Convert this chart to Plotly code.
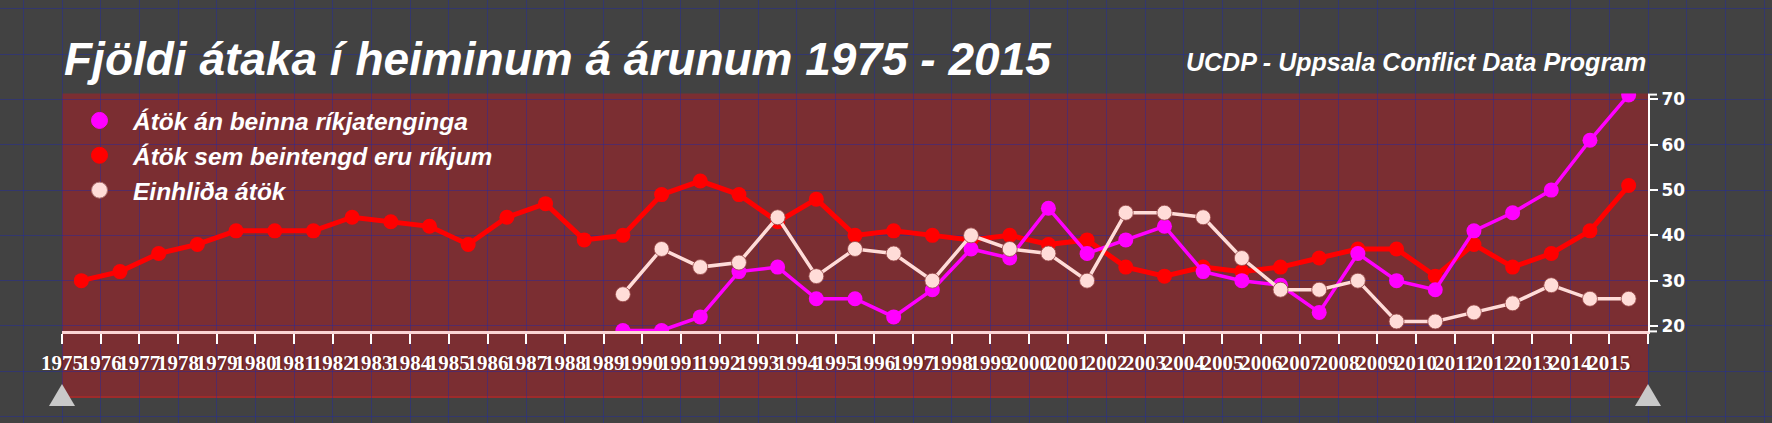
import plotly.graph_objects as go

# ---------------- data ----------------
years = list(range(1975, 2016))
years_late = list(range(1989, 2016))

state_based = [30, 32, 36, 38, 41, 41, 41, 44, 43, 42, 38, 44, 47, 39, 40,
               49, 52, 49, 43, 48, 40, 41, 40, 39, 40, 38, 39, 33, 31,
               33, 32, 33, 35, 37, 37, 31, 38, 33, 36, 41, 51]
non_state = [19, 19, 22, 32, 33, 26, 26, 22, 28, 37,
             35, 46, 36, 39, 42, 32, 30, 29, 23, 36,
             30, 28, 41, 45, 50, 61, 71]
one_sided = [27, 37, 33, 34, 44, 31, 37, 36, 30, 40,
             37, 36, 30, 45, 45, 44, 35, 28, 28, 30,
             21, 21, 23, 25, 29, 26, 26]

name_non_state = "Átök án beinna ríkjatenginga"
name_state = "Átök sem beintengd eru ríkjum"
name_one_sided = "Einhliða átök"

tick_years = list(range(1975, 2017))
tick_labels = [str(y) if y <= 2015 else "" for y in tick_years]
y_ticks = [20, 30, 40, 50, 60, 70]

title_text = "Fjöldi átaka í heiminum á árunum 1975 - 2015"
source_text = "UCDP - Uppsala Conflict Data Program"

# ---------------- layout geometry ----------------
W, H = 1772, 423
PL, PR = 62, 1648          # plot left / right in px
PT, PB = 93.6, 331.4       # plot top / bottom in px
RECT_B = 397               # bottom of the red panel
X_RANGE = [1975, 2016]
Y_RANGE = [18.8, 71.3]

ppx = (PR - PL) / (X_RANGE[1] - X_RANGE[0])
ppy = (PB - PT) / (Y_RANGE[1] - Y_RANGE[0])
grid_x_range = [X_RANGE[0] - PL / ppx, X_RANGE[1] + (W - PR) / ppx]
grid_y_range = [Y_RANGE[0] - (H - PB) / ppy, Y_RANGE[1] + PT / ppy]

def px(xp):
    return xp / W

def py(yp):
    return 1 - yp / H

MAGENTA = "#ff00ff"
RED = "#ff0000"
PINK = "#ffdcd8"
BG = "#424242"
PANEL = "#7b2e32"
GRID = "rgba(30,40,170,0.42)"
FONT_SANS = "Liberation Sans, Arial, sans-serif"

fig = go.Figure()

# invisible trace so the background-grid subplot exists
fig.add_trace(go.Scatter(x=[None], y=[None], xaxis="x", yaxis="y",
                         showlegend=False, hoverinfo="skip"))

# legend-only entries (big round markers, no line)
for nm, col, lc in [(name_non_state, MAGENTA, MAGENTA),
                    (name_state, RED, RED),
                    (name_one_sided, PINK, "#b07474")]:
    fig.add_trace(go.Scatter(x=[None], y=[None], xaxis="x2", yaxis="y2",
                             mode="markers", name=nm,
                             marker=dict(size=20, color=col,
                                         line=dict(color=lc, width=1))))

mid = 0.5  # points sit in the middle of each year interval
fig.add_trace(go.Scatter(x=[y + mid for y in years], y=state_based,
                         xaxis="x2", yaxis="y2", mode="lines+markers",
                         name=name_state, showlegend=False,
                         line=dict(color=RED, width=5),
                         marker=dict(size=15, color=RED)))
fig.add_trace(go.Scatter(x=[y + mid for y in years_late], y=non_state,
                         xaxis="x2", yaxis="y2", mode="lines+markers",
                         name=name_non_state, showlegend=False,
                         line=dict(color=MAGENTA, width=3.5),
                         marker=dict(size=15, color=MAGENTA)))
fig.add_trace(go.Scatter(x=[y + mid for y in years_late], y=one_sided,
                         xaxis="x2", yaxis="y2", mode="lines+markers",
                         name=name_one_sided, showlegend=False,
                         line=dict(color=PINK, width=3.5),
                         marker=dict(size=15, color=PINK,
                                     line=dict(color="rgba(150,70,70,0.8)", width=1))))

shapes = [
    # red panel
    dict(type="rect", xref="paper", yref="paper", layer="below",
         x0=px(PL), x1=px(PR), y0=py(RECT_B), y1=py(PT),
         fillcolor=PANEL, line=dict(width=0)),
    dict(type="line", xref="paper", yref="paper", layer="below",
         x0=px(PL), x1=px(PR), y0=py(RECT_B), y1=py(RECT_B),
         line=dict(color="#9e2b2b", width=2)),
    # y-axis end caps
    dict(type="line", xref="paper", yref="paper",
         x0=px(PR), x1=px(PR + 9), y0=py(PT + 1), y1=py(PT + 1),
         line=dict(color="white", width=2)),
    dict(type="line", xref="paper", yref="paper",
         x0=px(PR), x1=px(PR + 9), y0=py(PB), y1=py(PB),
         line=dict(color="white", width=2)),
    # range-slider handles
    dict(type="path", xref="paper", yref="paper",
         path=f"M {px(PL - 13)} {py(406)} L {px(PL + 13)} {py(406)} L {px(PL)} {py(384)} Z",
         fillcolor="#c9c9c9", line=dict(width=0)),
    dict(type="path", xref="paper", yref="paper",
         path=f"M {px(PR - 13)} {py(406)} L {px(PR + 13)} {py(406)} L {px(PR)} {py(384)} Z",
         fillcolor="#c9c9c9", line=dict(width=0)),
]

fig.update_layout(
    width=W, height=H, autosize=False,
    margin=dict(l=0, r=0, t=0, b=0, pad=0, autoexpand=False),
    paper_bgcolor=BG, plot_bgcolor="rgba(0,0,0,0)",
    title=dict(text=title_text, x=px(64), xanchor="left", xref="paper",
               y=py(59), yanchor="middle", yref="paper", automargin=False,
               font=dict(family=FONT_SANS, size=46,
                         color="white", weight="bold", style="italic")),
    annotations=[dict(text=source_text, x=px(PR), y=py(62), xref="paper",
                      yref="paper", xanchor="right", yanchor="middle",
                      showarrow=False,
                      font=dict(family=FONT_SANS, size=25, color="white",
                                weight="bold", style="italic"))],
    shapes=shapes,
    showlegend=True,
    legend=dict(x=px(66), y=py(98), xanchor="left", yanchor="top",
                bgcolor="rgba(0,0,0,0)", borderwidth=0, itemwidth=57,
                font=dict(family=FONT_SANS, size=24.5, color="white",
                          weight="bold", style="italic")),
    # background grid covering the whole picture
    xaxis=dict(domain=[0, 1], range=grid_x_range, anchor="y",
               showgrid=True, gridcolor=GRID, gridwidth=1, dtick=1, tick0=0,
               showticklabels=False, zeroline=False, showline=False,
               ticks="", automargin=False),
    yaxis=dict(domain=[0, 1], range=grid_y_range, anchor="x",
               showgrid=True, gridcolor=GRID, gridwidth=1, dtick=10, tick0=0,
               showticklabels=False, zeroline=False, showline=False,
               ticks="", automargin=False),
    # data axes
    xaxis2=dict(domain=[px(PL), px(PR)], range=X_RANGE, anchor="y2",
                showgrid=False, zeroline=False, automargin=False,
                showline=True, linecolor="#fcd4d4", linewidth=3,
                ticks="outside", ticklen=10, tickwidth=2, tickcolor="white",
                tickmode="array", tickvals=tick_years, ticktext=tick_labels,
                tickangle=0,
                tickfont=dict(family="Liberation Serif, Times New Roman, serif",
                              size=21, color="white", weight="bold",
                              shadow="1px 0px 1px #4a1414")),
    yaxis2=dict(domain=[py(PB), py(PT)], range=Y_RANGE, anchor="x2",
                side="right", showgrid=False, zeroline=False, automargin=False,
                showline=True, linecolor="white", linewidth=2,
                ticks="outside", ticklen=8, tickwidth=2, tickcolor="white",
                tickmode="array", tickvals=y_ticks,
                tickfont=dict(family="DejaVu Sans, Verdana, sans-serif",
                              size=17, color="white", weight="bold")),
)

fig.write_html("out.html",
               config={"displayModeBar": False},
               post_script="document.body.style.margin='0';"
                           "document.body.style.overflow='hidden';")
